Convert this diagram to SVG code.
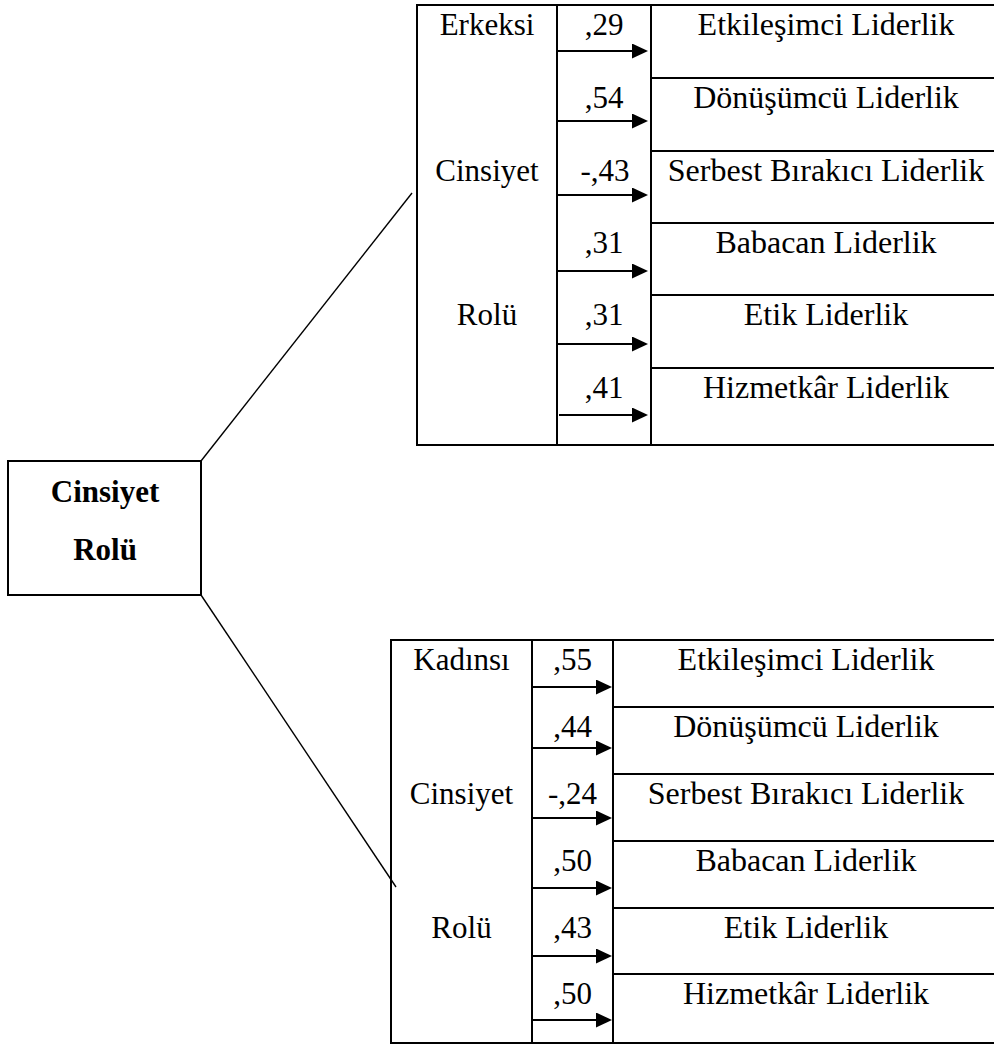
<svg xmlns="http://www.w3.org/2000/svg" width="994" height="1046" viewBox="0 0 994 1046">
  <style>
    .t { font-family: "Liberation Serif", "Times New Roman", serif; font-size: 31px; fill: #000; text-anchor: middle; }
    .r { font-size: 32px; }
    .b { font-family: "Liberation Serif", "Times New Roman", serif; font-size: 31px; font-weight: bold; fill: #000; text-anchor: middle; }
    .grid { stroke: #000; stroke-width: 2; fill: none; }
    .arr { stroke: #000; stroke-width: 2.2; marker-end: url(#head); }
    .link { stroke: #000; stroke-width: 1.4; fill: none; }
  </style>
  <defs>
    <marker id="head" markerUnits="userSpaceOnUse" viewBox="0 0 16 15" markerWidth="16" markerHeight="15" refX="8" refY="7.5" orient="auto">
      <path d="M0,0 L16,7.5 L0,15 Z" fill="#000"/>
    </marker>
  </defs>
  <rect width="994" height="1046" fill="#fff"/>

  <!-- connectors from the central box to both tables -->
  <g id="connectors">
    <line class="link" x1="201" y1="461" x2="412" y2="193"/>
    <line class="link" x1="201" y1="595" x2="396" y2="887"/>
  </g>

  <!-- central node -->
  <g id="cinsiyet-rolu">
    <rect class="grid" x="8" y="461" width="193" height="134"/>
    <text class="b" x="105" y="502">Cinsiyet</text>
    <text class="b" x="105" y="560">Rolü</text>
  </g>

  <!-- masculine gender role table -->
  <g id="erkeksi">
    <path class="grid" d="M994,5 H417 V445 H994 M557,5 V445 M651,5 V445 M651,78 H994 M651,151 H994 M651,223 H994 M651,295 H994 M651,368 H994"/>
    <text class="t" x="487" y="35">Erkeksi</text>
    <text class="t" x="487" y="181">Cinsiyet</text>
    <text class="t" x="487" y="325">Rolü</text>
    <text class="t" x="604" y="35">,29</text>
    <text class="t" x="604" y="108">,54</text>
    <text class="t" x="605" y="181">-,43</text>
    <text class="t" x="604" y="253">,31</text>
    <text class="t" x="604" y="325">,31</text>
    <text class="t" x="604" y="398">,41</text>
    <text class="t r" x="826" y="35">Etkileşimci Liderlik</text>
    <text class="t r" x="826" y="108">Dönüşümcü Liderlik</text>
    <text class="t r" x="826" y="181">Serbest Bırakıcı Liderlik</text>
    <text class="t r" x="826" y="253">Babacan Liderlik</text>
    <text class="t r" x="826" y="325">Etik Liderlik</text>
    <text class="t r" x="826" y="398">Hizmetkâr Liderlik</text>
    <line class="arr" x1="557" y1="51" x2="640" y2="51"/>
    <line class="arr" x1="557" y1="121" x2="640" y2="121"/>
    <line class="arr" x1="557" y1="195" x2="640" y2="195"/>
    <line class="arr" x1="557" y1="271" x2="640" y2="271"/>
    <line class="arr" x1="557" y1="344" x2="640" y2="344"/>
    <line class="arr" x1="559" y1="415" x2="640" y2="415"/>
  </g>

  <!-- feminine gender role table -->
  <g id="kadinsi">
    <path class="grid" d="M994,640 H391 V1043 H994 M532,640 V1043 M613,640 V1043 M613,707 H994 M613,774 H994 M613,841 H994 M613,908 H994 M613,974 H994"/>
    <text class="t" x="461.5" y="670">Kadınsı</text>
    <text class="t" x="461.5" y="804">Cinsiyet</text>
    <text class="t" x="461.5" y="938">Rolü</text>
    <text class="t" x="572.5" y="670">,55</text>
    <text class="t" x="572.5" y="737">,44</text>
    <text class="t" x="572.5" y="804">-,24</text>
    <text class="t" x="572.5" y="871">,50</text>
    <text class="t" x="572.5" y="938">,43</text>
    <text class="t" x="572.5" y="1004">,50</text>
    <text class="t r" x="806" y="670">Etkileşimci Liderlik</text>
    <text class="t r" x="806" y="737">Dönüşümcü Liderlik</text>
    <text class="t r" x="806" y="804">Serbest Bırakıcı Liderlik</text>
    <text class="t r" x="806" y="871">Babacan Liderlik</text>
    <text class="t r" x="806" y="938">Etik Liderlik</text>
    <text class="t r" x="806" y="1004">Hizmetkâr Liderlik</text>
    <line class="arr" x1="532" y1="687" x2="604" y2="687"/>
    <line class="arr" x1="532" y1="748" x2="604" y2="748"/>
    <line class="arr" x1="532" y1="818" x2="604" y2="818"/>
    <line class="arr" x1="532" y1="888" x2="604" y2="888"/>
    <line class="arr" x1="532" y1="956" x2="604" y2="956"/>
    <line class="arr" x1="532" y1="1020" x2="604" y2="1020"/>
  </g>
</svg>
